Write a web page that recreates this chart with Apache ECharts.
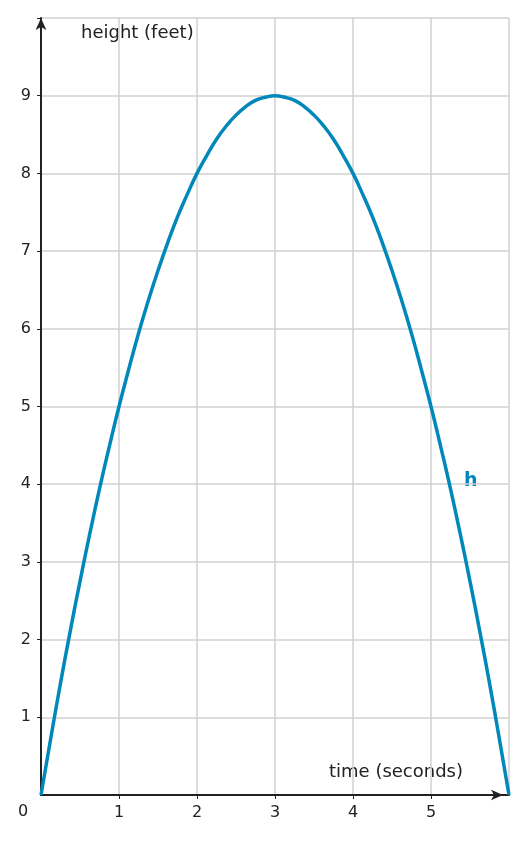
<!DOCTYPE html>
<html><head><meta charset="utf-8">
<script src="https://cdn.jsdelivr.net/npm/echarts@6/dist/echarts.min.js"></script>
<style>html,body{margin:0;padding:0;background:#fff}#c{width:525px;height:843px}</style>
</head><body><div id="c"></div>
<script>
const times = [0,0.125,0.25,0.375,0.5,0.625,0.75,0.875,1,1.125,1.25,1.375,1.5,1.625,1.75,1.875,2,2.125,2.25,2.375,2.5,2.625,2.75,2.875,3,3.125,3.25,3.375,3.5,3.625,3.75,3.875,4,4.125,4.25,4.375,4.5,4.625,4.75,4.875,5,5.125,5.25,5.375,5.5,5.625,5.75,5.875,6];
const heights = [0,0.73,1.44,2.11,2.75,3.36,3.94,4.48,5,5.48,5.94,6.36,6.75,7.11,7.44,7.73,8,8.23,8.44,8.61,8.75,8.86,8.94,8.98,9,8.98,8.94,8.86,8.75,8.61,8.44,8.23,8,7.73,7.44,7.11,6.75,6.36,5.94,5.48,5,4.48,3.94,3.36,2.75,2.11,1.44,0.73,0];
const xTicks = [1,2,3,4,5];
const yTicks = [1,2,3,4,5,6,7,8,9];
const font = 'DejaVu Sans';
const chart = echarts.init(document.getElementById('c'));
chart.setOption({
  animation:false,
  grid:{left:41,right:16,top:18,bottom:48},
  xAxis:{type:'value',min:0,max:6,interval:1,
    axisLine:{show:true,symbol:['none','arrow'],symbolSize:[8,12],symbolOffset:[0,-6],lineStyle:{color:'#222',width:2}},
    axisTick:{show:true,length:4,lineStyle:{color:'#222'}},
    axisLabel:{showMinLabel:false,showMaxLabel:false,color:'#222',fontFamily:font,fontSize:16,margin:10,
      formatter:v=>xTicks.includes(v)?String(v):''},
    splitLine:{show:true,interval:(i,v)=>xTicks.includes(v),lineStyle:{color:'#d0d0d0',width:1.5}}},
  yAxis:{type:'value',min:0,max:10,interval:1,
    axisLine:{show:true,symbol:['none','arrow'],symbolSize:[8,12],lineStyle:{color:'#222',width:2}},
    axisTick:{show:true,length:4,lineStyle:{color:'#222'},interval:(i,v)=>yTicks.includes(v)},
    axisLabel:{showMinLabel:false,color:'#222',fontFamily:font,fontSize:16,margin:10,
      formatter:v=>yTicks.includes(v)?String(v):''},
    splitLine:{show:true,interval:(i,v)=>yTicks.includes(v),lineStyle:{color:'#d0d0d0',width:1.5}}},
  series:[{type:'line',data:times.map((t,i)=>[t,heights[i]]),smooth:true,showSymbol:false,
    lineStyle:{color:'#0088bb',width:3.5}}],
  graphic:[
    {type:'text',left:81,top:24,style:{text:'height (feet)',fill:'#222',font:'18px DejaVu Sans'}},
    {type:'text',left:329,top:763,style:{text:'time (seconds)',fill:'#222',font:'18px DejaVu Sans'}},
    {type:'text',left:464,top:472,style:{text:'h',fill:'#0088bb',font:'bold 19px DejaVu Sans'}},
    {type:'text',left:18,top:804,style:{text:'0',fill:'#222',font:'16px DejaVu Sans'}}
  ]
});
</script></body></html>
